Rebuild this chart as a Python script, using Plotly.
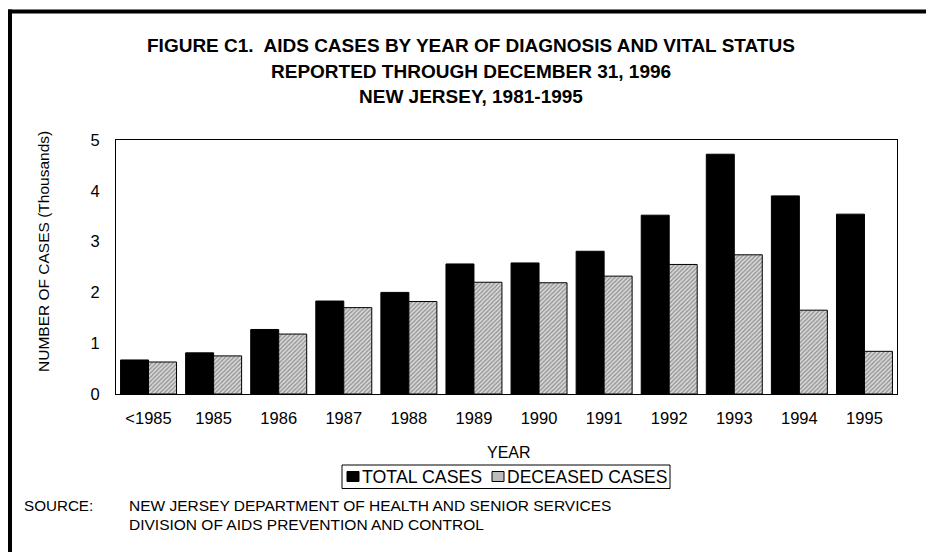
import plotly.graph_objects as go

years = ["<1985", "1985", "1986", "1987", "1988", "1989", "1990", "1991", "1992", "1993", "1994", "1995"]
total_cases = [0.67, 0.81, 1.27, 1.83, 2.00, 2.56, 2.58, 2.81, 3.52, 4.72, 3.90, 3.54]
deceased_cases = [0.63, 0.75, 1.18, 1.70, 1.82, 2.20, 2.19, 2.32, 2.55, 2.74, 1.65, 0.84]
y_ticks = [0, 1, 2, 3, 4, 5]
series_names = ["TOTAL CASES", "DECEASED CASES"]

FONT = "Liberation Sans, Arial, sans-serif"
HATCH = dict(shape="/", fgcolor="#444444", bgcolor="#d8d8d8", size=3, solidity=0.4)

fig = go.Figure()
fig.add_trace(go.Bar(
    x=years, y=total_cases, name=series_names[0],
    marker=dict(color="black", line=dict(color="black", width=1)),
))
fig.add_trace(go.Bar(
    x=years, y=deceased_cases, name=series_names[1],
    marker=dict(color="#c8c8c8", line=dict(color="black", width=1), pattern=HATCH),
))

# page offset (browser body margin)
OFF = 8
W, H = 934 - OFF, 552 - OFF
L, R, T, B = 116 - OFF, 934 - 897, 140 - OFF, 552 - 394
pw, ph = W - L - R, H - T - B

def px(x):
    return (x - OFF - L) / pw

def py(y):
    return (H - B - (y - OFF)) / ph

annotations = []
titles = [
    ("FIGURE C1.  AIDS CASES BY YEAR OF DIAGNOSIS AND VITAL STATUS", 45),
    ("REPORTED THROUGH DECEMBER 31, 1996", 71),
    ("NEW JERSEY, 1981-1995", 96),
]
for txt, yy in titles:
    annotations.append(dict(text="<b>%s</b>" % txt.replace("  ", "&nbsp; "), x=px(471), y=py(yy),
                            xref="paper", yref="paper", xanchor="center", yanchor="middle",
                            showarrow=False, font=dict(family=FONT, size=19, color="black")))
annotations.append(dict(text="YEAR", x=px(509), y=py(452), xref="paper", yref="paper",
                        xanchor="center", yanchor="middle", showarrow=False,
                        font=dict(family=FONT, size=16, color="black")))
annotations.append(dict(text="NUMBER OF CASES (Thousands)", x=px(43), y=py(252), xref="paper", yref="paper",
                        xanchor="center", yanchor="middle", textangle=-90, showarrow=False,
                        font=dict(family=FONT, size=15.5, color="black")))
annotations.append(dict(text="SOURCE:", x=px(22), y=py(505), xref="paper", yref="paper",
                        xanchor="left", yanchor="middle", showarrow=False,
                        font=dict(family=FONT, size=15.2, color="black")))
annotations.append(dict(text="NEW JERSEY DEPARTMENT OF HEALTH AND SENIOR SERVICES", x=px(127), y=py(505),
                        xref="paper", yref="paper", xanchor="left", yanchor="middle", showarrow=False,
                        font=dict(family=FONT, size=15.5, color="black")))
annotations.append(dict(text="DIVISION OF AIDS PREVENTION AND CONTROL", x=px(127), y=py(524),
                        xref="paper", yref="paper", xanchor="left", yanchor="middle", showarrow=False,
                        font=dict(family=FONT, size=15.5, color="black")))

# custom legend (compact box as in the reference)
annotations.append(dict(text=series_names[0], x=px(360), y=py(477), xref="paper", yref="paper",
                        xanchor="left", yanchor="middle", showarrow=False,
                        font=dict(family=FONT, size=17.8, color="black")))
annotations.append(dict(text=series_names[1], x=px(505), y=py(477), xref="paper", yref="paper",
                        xanchor="left", yanchor="middle", showarrow=False,
                        font=dict(family=FONT, size=17.5, color="black")))

shapes = [
    dict(type="line", xref="paper", yref="paper", x0=px(8), x1=px(945), y0=py(11.5), y1=py(11.5),
         line=dict(color="black", width=4)),
    dict(type="line", xref="paper", yref="paper", x0=px(10), x1=px(10), y0=py(9.5), y1=py(570),
         line=dict(color="black", width=4)),
    # legend frame
    dict(type="rect", xref="paper", yref="paper", x0=px(342), x1=px(670), y0=py(465), y1=py(488.5),
         line=dict(color="black", width=1), fillcolor="white", layer="below"),
    # legend swatches
    dict(type="rect", xref="paper", yref="paper", x0=px(347), x1=px(359), y0=py(471.5), y1=py(481.5),
         line=dict(color="black", width=1), fillcolor="black"),
    dict(type="rect", xref="paper", yref="paper", x0=px(492), x1=px(504), y0=py(471.5), y1=py(481.5),
         line=dict(color="black", width=1), fillcolor="#bcbcbc"),
]

fig.update_layout(
    width=W, height=H,
    margin=dict(l=L, r=R, t=T, b=B, autoexpand=False),
    paper_bgcolor="white", plot_bgcolor="white",
    barmode="group", bargap=0.14, bargroupgap=0.0,
    font=dict(family=FONT, size=16, color="black"),
    showlegend=False,
    annotations=annotations,
    shapes=shapes,
)
fig.update_xaxes(showline=True, linecolor="black", linewidth=1, mirror=True, showgrid=False,
                 ticks="", ticklabelstandoff=9, tickfont=dict(family=FONT, size=16.5))
fig.update_yaxes(range=[0, 5], tickvals=y_ticks, showline=True, linecolor="black", linewidth=1,
                 mirror=True, showgrid=False, zeroline=False, ticks="", ticklabelstandoff=12,
                 tickfont=dict(family=FONT, size=16.5))

fig.write_html("out.html")
